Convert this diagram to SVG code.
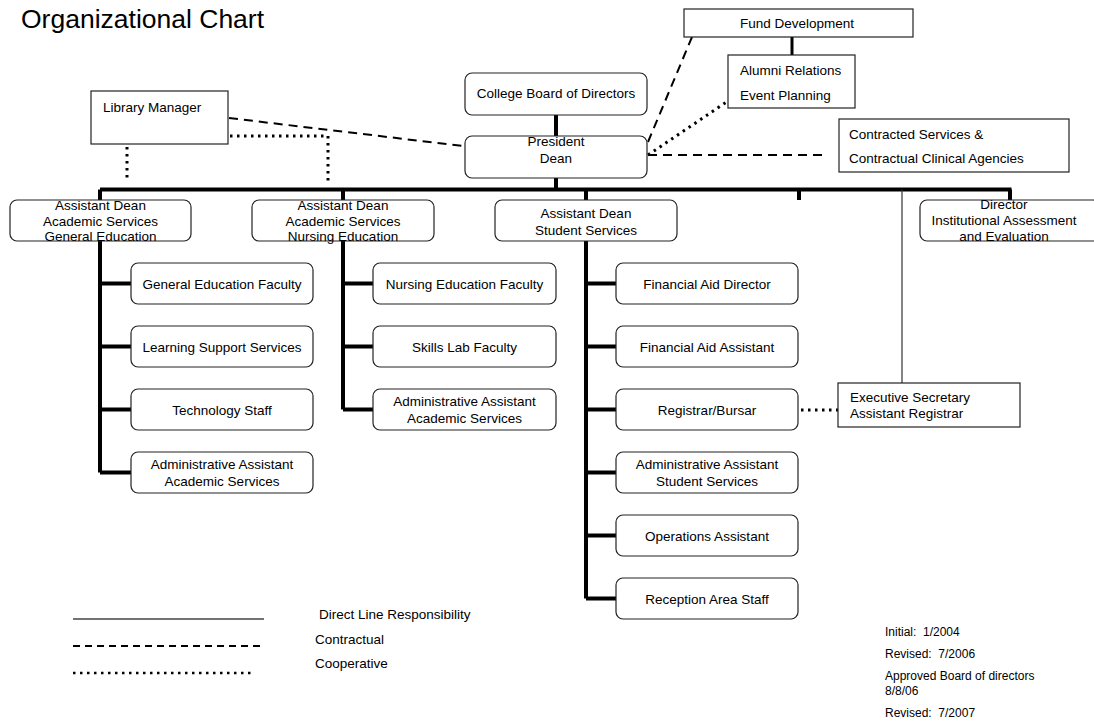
<svg xmlns="http://www.w3.org/2000/svg" width="1094" height="721" viewBox="0 0 1094 721">
<style>
text{font-family:"Liberation Sans",Arial,sans-serif;font-size:13.5px;fill:#000}
.c{text-anchor:middle}
.rb{fill:#fff;stroke:#222;stroke-width:1.2}
.sb{fill:#fff;stroke:#222;stroke-width:1.2}
.thick{stroke:#000;stroke-width:4;fill:none}
.thin{stroke:#333;stroke-width:1.2;fill:none}
.dash{stroke:#000;stroke-width:2;stroke-dasharray:9 6;fill:none}
.dot{stroke:#000;stroke-width:3;stroke-dasharray:2.5 4.5;fill:none}
.small{font-size:12px;white-space:pre}
</style>
<rect width="1094" height="721" fill="#fff"/>
<text x="21" y="28" style="font-size:26.5px">Organizational Chart</text>

<g id="connectors">
  <path class="thick" d="M100 189.5H1011.5M556 115V136M556 178V189.5M100 189.5V200M343 189.5V200M586 189.5V200M799 189.5V200M1010 189.5V200"/>
  <path class="thick" d="M100 241V472.5M100 283.5H131M100 346.5H131M100 409.5H131M100 472.5H131"/>
  <path class="thick" d="M343 241V409.5M343 283.5H373M343 346.5H373M343 409.5H373"/>
  <path class="thick" d="M586 241V598.5M586 283.5H616M586 346.5H616M586 409.5H616M586 472.5H616M586 535.5H616M586 598.5H616"/>
  <path class="thick" d="M792 37V55" style="stroke-width:3"/>
  <path class="thin" d="M902 189.5V383"/>
  <path class="dash" d="M229 118L463 146"/>
  <path class="dash" d="M648 142L692 37"/>
  <path class="dash" d="M648 155H828"/>
  <path class="dot" d="M648 155L728 101"/>
  <path class="dot" d="M127 147V181M230 136H328V181"/>
  <path class="dot" d="M801 410H838"/>
</g>

<g id="library-manager"><rect class="sb" x="91" y="91" width="137" height="53"/><text x="103" y="112">Library Manager</text></g>
<g id="fund-development"><rect class="sb" x="684" y="9" width="229" height="28"/><text class="c" x="797" y="28">Fund Development</text></g>
<g id="alumni-relations"><rect class="sb" x="728" y="55" width="127" height="53"/><text x="740" y="75">Alumni Relations</text><text x="740" y="100">Event Planning</text></g>
<g id="college-board"><rect class="rb" x="465" y="73" width="182" height="42" rx="7"/><text class="c" x="556" y="98">College Board of Directors</text></g>
<g id="president"><rect class="rb" x="465" y="136" width="182" height="42" rx="7"/><text class="c" x="556" y="146">President</text><text class="c" x="556" y="163">Dean</text></g>
<g id="contracted-services"><rect class="sb" x="839" y="119" width="230" height="53"/><text x="849" y="139">Contracted Services &amp;</text><text x="849" y="163">Contractual Clinical Agencies</text></g>

<g id="ad-general"><rect class="rb" x="10" y="200" width="181" height="41" rx="7"/><text class="c" x="100.5" y="210">Assistant Dean</text><text class="c" x="100.5" y="225.5">Academic Services</text><text class="c" x="100.5" y="241">General Education</text></g>
<g id="ad-nursing"><rect class="rb" x="252" y="200" width="182" height="41" rx="7"/><text class="c" x="343" y="210">Assistant Dean</text><text class="c" x="343" y="225.5">Academic Services</text><text class="c" x="343" y="241">Nursing Education</text></g>
<g id="ad-student"><rect class="rb" x="495" y="200" width="182" height="41" rx="7"/><text class="c" x="586" y="218">Assistant Dean</text><text class="c" x="586" y="235">Student Services</text></g>
<g id="director"><rect class="rb" x="920" y="200" width="180" height="41" rx="7"/><text class="c" x="1004" y="209">Director</text><text class="c" x="1004" y="225">Institutional Assessment</text><text class="c" x="1004" y="241">and Evaluation</text></g>

<g id="gen-ed-faculty"><rect class="rb" x="131" y="263" width="182" height="41" rx="7"/><text class="c" x="222" y="289">General Education Faculty</text></g>
<g id="learning-support"><rect class="rb" x="131" y="326" width="182" height="41" rx="7"/><text class="c" x="222" y="352">Learning Support Services</text></g>
<g id="technology-staff"><rect class="rb" x="131" y="389" width="182" height="41" rx="7"/><text class="c" x="222" y="415">Technology Staff</text></g>
<g id="admin-asst-gen"><rect class="rb" x="131" y="452" width="182" height="41" rx="7"/><text class="c" x="222" y="469">Administrative Assistant</text><text class="c" x="222" y="486">Academic Services</text></g>

<g id="nursing-faculty"><rect class="rb" x="373" y="263" width="183" height="41" rx="7"/><text class="c" x="464.5" y="289">Nursing Education Faculty</text></g>
<g id="skills-lab"><rect class="rb" x="373" y="326" width="183" height="41" rx="7"/><text class="c" x="464.5" y="352">Skills Lab Faculty</text></g>
<g id="admin-asst-nursing"><rect class="rb" x="373" y="389" width="183" height="41" rx="7"/><text class="c" x="464.5" y="406">Administrative Assistant</text><text class="c" x="464.5" y="423">Academic Services</text></g>

<g id="financial-aid-director"><rect class="rb" x="616" y="263" width="182" height="41" rx="7"/><text class="c" x="707" y="289">Financial Aid Director</text></g>
<g id="financial-aid-assistant"><rect class="rb" x="616" y="326" width="182" height="41" rx="7"/><text class="c" x="707" y="352">Financial Aid Assistant</text></g>
<g id="registrar"><rect class="rb" x="616" y="389" width="182" height="41" rx="7"/><text class="c" x="707" y="415">Registrar/Bursar</text></g>
<g id="admin-asst-student"><rect class="rb" x="616" y="452" width="182" height="41" rx="7"/><text class="c" x="707" y="469">Administrative Assistant</text><text class="c" x="707" y="486">Student Services</text></g>
<g id="operations-assistant"><rect class="rb" x="616" y="515" width="182" height="41" rx="7"/><text class="c" x="707" y="541">Operations Assistant</text></g>
<g id="reception"><rect class="rb" x="616" y="578" width="182" height="41" rx="7"/><text class="c" x="707" y="604">Reception Area Staff</text></g>

<g id="executive-secretary"><rect class="sb" x="838" y="383" width="182" height="44"/><text x="850" y="402">Executive Secretary</text><text x="850" y="418">Assistant Registrar</text></g>

<g id="legend">
  <path d="M73 619H264" stroke="#444" stroke-width="1.5"/>
  <path d="M73 646H264" stroke="#000" stroke-width="2" stroke-dasharray="7 5"/>
  <path d="M73 673H252" stroke="#000" stroke-width="2.5" stroke-dasharray="2.5 4.5"/>
  <text x="319" y="619">Direct Line Responsibility</text>
  <text x="315" y="644">Contractual</text>
  <text x="315" y="668">Cooperative</text>
</g>
<g id="revision-notes">
  <text class="small" x="885" y="636">Initial:  1/2004</text>
  <text class="small" x="885" y="658">Revised:  7/2006</text>
  <text class="small" x="885" y="680">Approved Board of directors</text>
  <text class="small" x="885" y="695">8/8/06</text>
  <text class="small" x="885" y="717">Revised:  7/2007</text>
</g>
</svg>
